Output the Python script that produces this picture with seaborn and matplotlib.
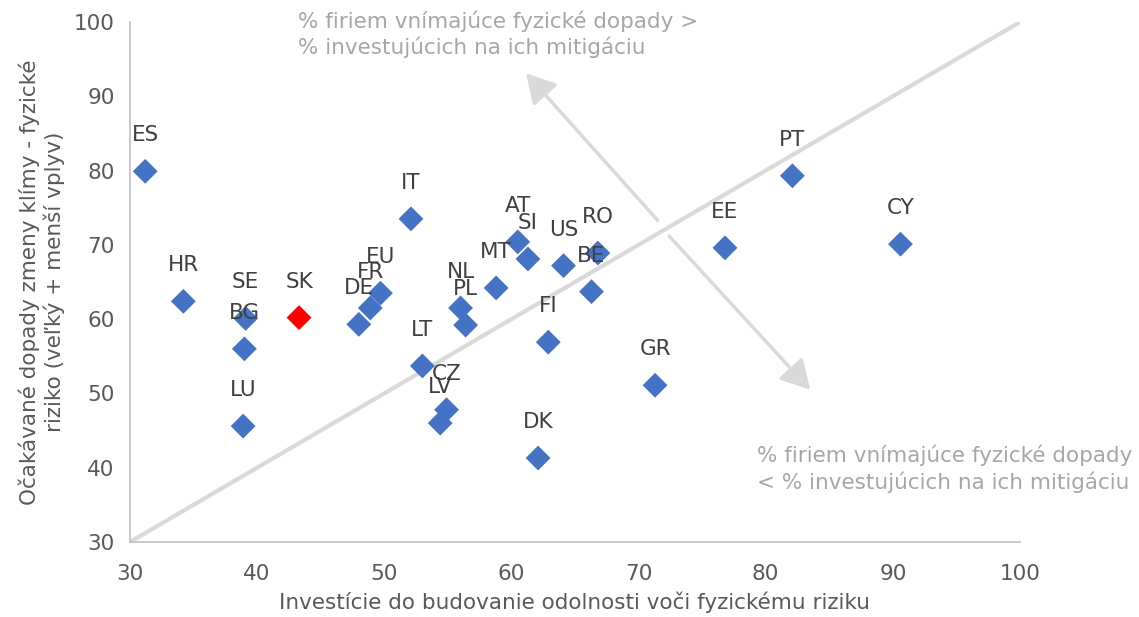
import numpy as np
import pandas as pd
import matplotlib
matplotlib.use('Agg')
import matplotlib.pyplot as plt
import seaborn as sns

# data
countries = ['ES', 'HR', 'SE', 'BG', 'LU', 'SK', 'DE', 'FR', 'EU', 'IT', 'LT', 'CZ', 'LV', 'NL',
             'PL', 'MT', 'AT', 'SI', 'US', 'RO', 'BE', 'FI', 'DK', 'GR', 'EE', 'PT', 'CY']
investment = [31.2, 34.2, 39.1, 39.0, 38.9, 43.3, 48.0, 48.9, 49.7, 52.1, 53.0, 54.9, 54.4, 56.0,
              56.4, 58.8, 60.5, 61.3, 64.1, 66.8, 66.3, 62.9, 62.1, 71.3, 76.8, 82.1, 90.6]
impact = [79.9, 62.4, 60.1, 56.0, 45.6, 60.2, 59.3, 61.5, 63.5, 73.5, 53.7, 47.8, 46.0, 61.5,
          59.2, 64.2, 70.4, 68.1, 67.2, 68.9, 63.7, 56.9, 41.3, 51.1, 69.6, 79.3, 70.1]
highlight = 'SK'

df = pd.DataFrame({'country': countries, 'x': investment, 'y': impact})
df['group'] = np.where(df['country'] == highlight, 'SK', 'other')

sns.set_style('white')
plt.rcParams['font.family'] = ['DejaVu Sans']
fs = 15.5

fig = plt.figure(figsize=(11.39, 6.17), dpi=100)
ax = fig.add_axes([0.1141, 0.1216, 0.7814, 0.8427])

# diagonal x = y
ax.plot([30, 100], [30, 100], color='#d9d9d9', lw=3, zorder=1, solid_capstyle='butt')

sns.scatterplot(data=df, x='x', y='y', hue='group', palette={'other': '#4472C4', 'SK': '#FF0000'},
                marker='D', s=160, linewidth=0, legend=False, ax=ax, zorder=3)

for c, x, y in zip(countries, investment, impact):
    ax.annotate(c, (x, y), xytext=(0, 26), textcoords='offset points', ha='center', va='center',
                fontsize=fs, color='#404040', zorder=4)

# arrows
arrow_kw = dict(arrowstyle='-|>,head_length=0.8,head_width=0.45', color='#d9d9d9', lw=2.5,
                mutation_scale=22, shrinkA=0, shrinkB=0)
ax.annotate('', xy=(61.15, 93.1), xytext=(71.5, 73.3), arrowprops=arrow_kw, annotation_clip=False)
ax.annotate('', xy=(83.5, 50.5), xytext=(72.4, 71.2), arrowprops=arrow_kw, annotation_clip=False)

ax.text(43.2, 101.6, '% firiem vnímajúce fyzické dopady >\n% investujúcich na ich mitigáciu',
        fontsize=fs, color='#a6a6a6', ha='left', va='top', linespacing=1.3, clip_on=False)
ax.text(79.3, 43.1, '% firiem vnímajúce fyzické dopady\n< % investujúcich na ich mitigáciu',
        fontsize=fs, color='#a6a6a6', ha='left', va='top', linespacing=1.3, clip_on=False)

ax.set_xlim(30, 100)
ax.set_ylim(30, 100)
ax.set_xticks(range(30, 101, 10))
ax.set_yticks(range(30, 101, 10))
ax.tick_params(axis='x', length=0, labelsize=fs, labelcolor='#595959', pad=16)
ax.tick_params(axis='y', length=0, labelsize=fs, labelcolor='#595959', pad=11)
ax.set_xlabel('Investície do budovanie odolnosti voči fyzickému riziku', fontsize=fs, color='#595959', labelpad=5)
ax.set_ylabel('Očakávané dopady zmeny klímy - fyzické\nriziko (veľký + menší vplyv)', fontsize=fs,
              color='#595959', labelpad=6)

for side in ['top', 'right']:
    ax.spines[side].set_visible(False)
for side in ['left', 'bottom']:
    ax.spines[side].set_color('#bfbfbf')
    ax.spines[side].set_linewidth(1.2)

fig.savefig('out.png', dpi=100)
